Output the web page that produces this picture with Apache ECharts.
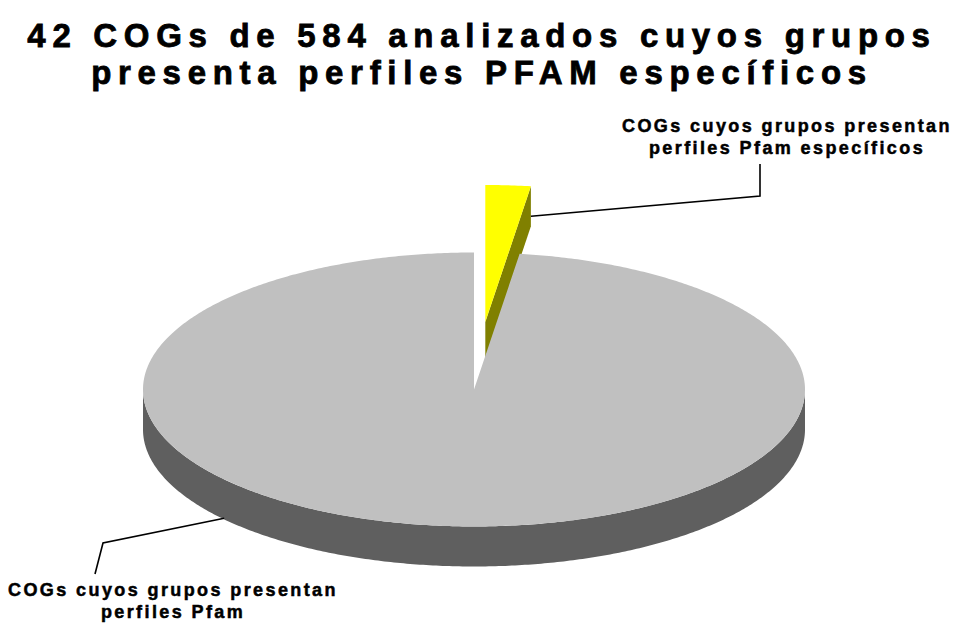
<!DOCTYPE html>
<html>
<head>
<meta charset="utf-8">
<script src="https://cdn.jsdelivr.net/npm/echarts@6/dist/echarts.min.js"></script>
<style>
html, body { margin: 0; padding: 0; background: #ffffff; }
#chart { width: 954px; height: 623px; }
#chart text[style*="33px"] { letter-spacing: 6.7px; }
#chart text[style*="18px"] { letter-spacing: 2.4px; }
</style>
</head>
<body>
<div id="chart"></div>
<script>
// ---- data ----
const titleLines = ['42 COGs de 584 analizados cuyos grupos', 'presenta perfiles PFAM específicos'];
const categories = [
  'COGs cuyos grupos presentan\nperfiles Pfam específicos',
  'COGs cuyos grupos presentan\nperfiles Pfam'
];
const shares = [2.2, 97.8]; // percent of the pie, as drawn

// ---- styles / layout ----
const topColors = ['#FFFF00', '#C0C0C0'];
const sideColors = ['#808000', '#5F5F5F'];
const explode = [0.494, 0];
const PIE = { cx: 474, cy: 389.5, rx: 331, ry: 137, h: 40 };
const FONT = '"Liberation Sans", Arial, sans-serif';
const labelLayout = [
  { anchorAngle: 'end', anchorR: 1, anchorZ: 0.75, path: [[760, 196], [760, 164]], x: 787, y: 137 },
  { anchorAngleDeg: 229, anchorR: 1, anchorZ: 0.97, path: [[103, 543], [95, 574]], x: 173, y: 601 }
];

const chart = echarts.init(document.getElementById('chart'), null, { renderer: 'svg', width: 954, height: 623 });

function renderItem(params, api) {
  const i = params.dataIndex;
  const total = shares.reduce((a, b) => a + b, 0);
  let start = 0;
  for (let k = 0; k < i; k++) start += shares[k];
  const a0 = start / total * 2 * Math.PI;
  const a1 = (start + api.value(0)) / total * 2 * Math.PI;
  const mid = (a0 + a1) / 2;
  const ox = explode[i] * PIE.rx * Math.sin(mid);
  const oy = -explode[i] * PIE.ry * Math.cos(mid);
  const pt = (th, r, z) => [PIE.cx + ox + r * PIE.rx * Math.sin(th), PIE.cy + oy - r * PIE.ry * Math.cos(th) + z];
  const arc = (t0, t1, z) => {
    const n = Math.max(2, Math.ceil((t1 - t0) / 0.01));
    const out = [];
    for (let k = 0; k <= n; k++) out.push(pt(t0 + (t1 - t0) * k / n, 1, z));
    return out;
  };
  const children = [];
  // outer (front) wall
  const w0 = Math.max(a0, Math.PI / 2), w1 = Math.min(a1, 1.5 * Math.PI);
  if (w1 > w0) {
    const pts = arc(w0, w1, 0).concat(arc(w0, w1, PIE.h).reverse());
    children.push({ type: 'polygon', shape: { points: pts }, style: { fill: sideColors[i], stroke: null } });
  }
  // radial walls
  if (Math.sin(a1) > 1e-6) {
    children.push({ type: 'polygon', shape: { points: [pt(a1, 0, 0), pt(a1, 1, 0), pt(a1, 1, PIE.h), pt(a1, 0, PIE.h)] },
      style: { fill: sideColors[i], stroke: null } });
  }
  if (Math.sin(a0) < -1e-6) {
    children.push({ type: 'polygon', shape: { points: [pt(a0, 0, 0), pt(a0, 1, 0), pt(a0, 1, PIE.h), pt(a0, 0, PIE.h)] },
      style: { fill: sideColors[i], stroke: null } });
  }
  // top face
  const topPts = [pt(0, 0, 0)].concat(arc(a0, a1, 0));
  children.push({ type: 'polygon', shape: { points: topPts }, style: { fill: topColors[i], stroke: null } });
  // leader line + label
  const L = labelLayout[i];
  const ang = L.anchorAngle === 'end' ? a1 : L.anchorAngleDeg * Math.PI / 180;
  const anchor = pt(ang, L.anchorR, L.anchorZ * PIE.h);
  children.push({ type: 'polyline', shape: { points: [anchor].concat(L.path) },
    style: { stroke: '#000', lineWidth: 1.6, fill: null } });
  children.push({ type: 'text', x: L.x, y: L.y, style: {
    text: categories[i], fill: '#000', fontSize: 18, fontWeight: 'bold', fontFamily: FONT,
    stroke: '#000', lineWidth: 0.5,
    align: 'center', verticalAlign: 'middle', lineHeight: 22 } });
  return { type: 'group', children: children };
}

chart.setOption({
  animation: false,
  backgroundColor: '#ffffff',
  graphic: [{
    type: 'text', x: 482, y: 17,
    style: { text: titleLines.join('\n'), fill: '#000', fontSize: 33, fontWeight: 'bold', fontFamily: FONT,
      stroke: '#000', lineWidth: 0.8,
      align: 'center', verticalAlign: 'top', lineHeight: 37 }
  }],
  series: [{
    type: 'custom',
    coordinateSystem: 'none',
    silent: true,
    renderItem: renderItem,
    data: shares.map((v, k) => ({ name: categories[k], value: [v] }))
  }]
});
</script>
</body>
</html>
